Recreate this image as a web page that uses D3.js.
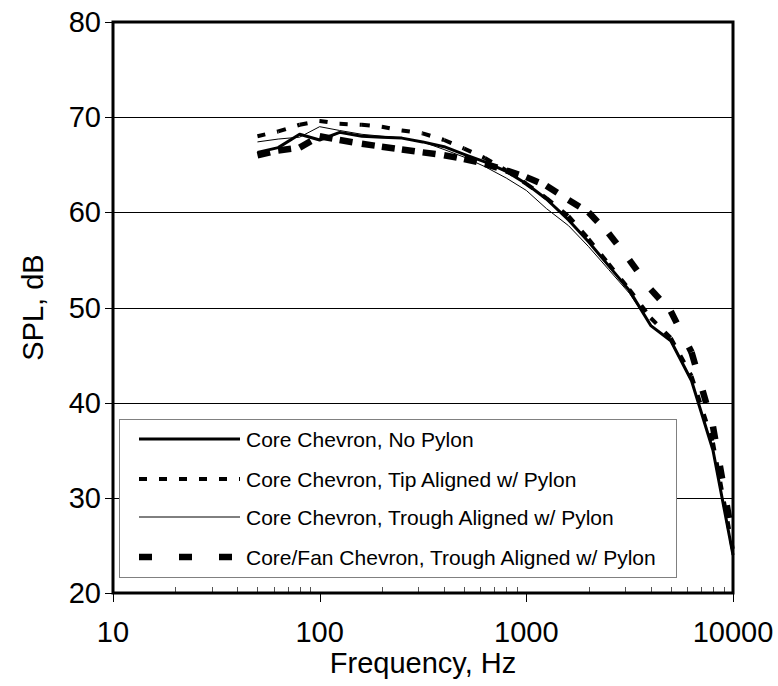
<!DOCTYPE html>
<html><head><meta charset="utf-8">
<script src="https://cdn.jsdelivr.net/npm/d3@7"></script>
<style>
body{margin:0;background:#fff}
svg{display:block}
text{font-family:"Liberation Sans",Arial,sans-serif;fill:#000}
</style>
</head><body>
<svg id="c" width="778" height="686"></svg>
<script>
// ---- data ----
const frequencies = [50,63,80,100,125,160,200,250,315,400,500,630,800,1000,1250,1600,2000,2500,3150,4000,5000,6300,8000,10000];
const noPylon       = [66.3,66.8,68.2,67.6,68.4,68.0,67.9,67.8,67.4,66.9,66.1,65.3,64.3,63.0,61.4,59.2,56.9,54.4,51.8,48.1,46.5,42.3,35.0,24.0];
const tipAligned    = [68.0,68.5,69.2,69.6,69.3,69.2,69.0,68.6,68.3,67.6,66.7,65.7,64.4,63.0,61.5,59.6,57.2,54.6,51.9,48.9,46.8,42.8,35.8,24.5];
const troughAligned = [67.4,67.7,67.9,69.0,68.6,68.2,68.0,67.8,67.4,66.6,65.8,64.8,63.6,62.3,60.4,58.6,56.4,54.0,51.5,48.2,46.4,42.2,35.2,24.0];
const coreFanTrough = [66.0,66.5,66.8,68.0,67.6,67.2,66.9,66.6,66.3,66.0,65.6,65.1,64.4,63.7,62.8,61.3,60.0,57.8,55.0,51.9,49.6,45.3,37.5,25.5];
const seriesNames = ["Core Chevron, No Pylon","Core Chevron, Tip Aligned w/ Pylon","Core Chevron, Trough Aligned w/ Pylon","Core/Fan Chevron, Trough Aligned w/ Pylon"];
const yTickValues = [20,30,40,50,60,70,80];
const xTickValues = [10,100,1000,10000];
const gridValues = [30,40,50,60,70];
const xTitle = "Frequency, Hz";
const yTitle = "SPL, dB";

// ---- layout ----
const L=113, R=733, T=22, B=593;
const svg = d3.select("#c");
const x = d3.scaleLog().domain([10,10000]).range([L,R]);
const y = d3.scaleLinear().domain([20,80]).range([B,T]);

// gridlines
svg.append("g").selectAll("line").data(gridValues).join("line")
  .attr("x1",L).attr("x2",R)
  .attr("y1",d=>Math.round(y(d))+0.5).attr("y2",d=>Math.round(y(d))+0.5)
  .attr("stroke","#000").attr("stroke-width",1);

// y ticks (outward)
svg.append("g").selectAll("line").data(yTickValues).join("line")
  .attr("x1",L-8).attr("x2",L)
  .attr("y1",d=>Math.round(y(d))+0.5).attr("y2",d=>Math.round(y(d))+0.5)
  .attr("stroke","#000").attr("stroke-width",1);
svg.append("g").selectAll("text").data(yTickValues).join("text")
  .attr("x",L-12).attr("y",d=>y(d)+10)
  .attr("text-anchor","end").attr("font-size",29).text(d=>d);

// x minor ticks (inward)
const minor=[];
[10,100,1000].forEach(dec=>{for(let k=2;k<=9;k++) minor.push(dec*k);});
svg.append("g").selectAll("line").data(minor).join("line")
  .attr("x1",d=>Math.round(x(d))+0.5).attr("x2",d=>Math.round(x(d))+0.5)
  .attr("y1",B-6).attr("y2",B)
  .attr("stroke","#555").attr("stroke-width",1);
// x major ticks (outward)
svg.append("g").selectAll("line").data(xTickValues).join("line")
  .attr("x1",d=>Math.round(x(d))+0.5).attr("x2",d=>Math.round(x(d))+0.5)
  .attr("y1",B).attr("y2",B+9)
  .attr("stroke","#000").attr("stroke-width",1);
svg.append("g").selectAll("text").data(xTickValues).join("text")
  .attr("x",d=>x(d)).attr("y",642)
  .attr("text-anchor","middle").attr("font-size",29).text(d=>d);

// titles
svg.append("text").attr("x",(L+R)/2).attr("y",673).attr("text-anchor","middle")
  .attr("font-size",29).text(xTitle);
svg.append("text").attr("transform",`translate(43,${(T+B)/2}) rotate(-90)`)
  .attr("text-anchor","middle").attr("font-size",29).text(yTitle);

// series
const styles = [
  {w:3, dash:null},
  {w:4, dash:"8,12"},
  {w:1, dash:null},
  {w:6.5, dash:"13,27"}
];
const allSeries = [noPylon, tipAligned, troughAligned, coreFanTrough];
const line = d3.line().x(d=>x(d[0])).y(d=>y(d[1]));
const plot = svg.append("g");
allSeries.forEach((vals,i)=>{
  const pts = frequencies.map((f,j)=>[f,vals[j]]);
  const st = styles[i];
  if(!st.dash){
    plot.append("path").attr("d",line(pts)).attr("fill","none")
      .attr("stroke","#000").attr("stroke-width",st.w).attr("stroke-linejoin","round");
  } else {
    const segs = d3.pairs(pts);
    plot.append("g").selectAll("path").data(segs).join("path")
      .attr("d",s=>line(s)).attr("fill","none").attr("stroke","#000")
      .attr("stroke-width",st.w).attr("stroke-dasharray",st.dash).attr("stroke-linecap","butt");
  }
});

// frame
svg.append("rect").attr("x",L).attr("y",T).attr("width",R-L).attr("height",B-T)
  .attr("fill","none").attr("stroke","#000").attr("stroke-width",3);

// legend
const LX=119, LY=419, LW=557, LH=158;
const lg = svg.append("g");
lg.append("rect").attr("x",LX+0.5).attr("y",LY+0.5).attr("width",LW).attr("height",LH)
  .attr("fill","#fff").attr("stroke","#808080").attr("stroke-width",1);
const rowY = [439,479,517,557];
seriesNames.forEach((name,i)=>{
  const st = styles[i];
  lg.append("line").attr("x1",139).attr("x2",240).attr("y1",rowY[i]).attr("y2",rowY[i])
    .attr("stroke","#000").attr("stroke-width",st.w)
    .attr("stroke-dasharray",st.dash);
  lg.append("text").attr("x",246).attr("y",rowY[i]+7.5).attr("font-size",21).text(name);
});
</script>
</body></html>
